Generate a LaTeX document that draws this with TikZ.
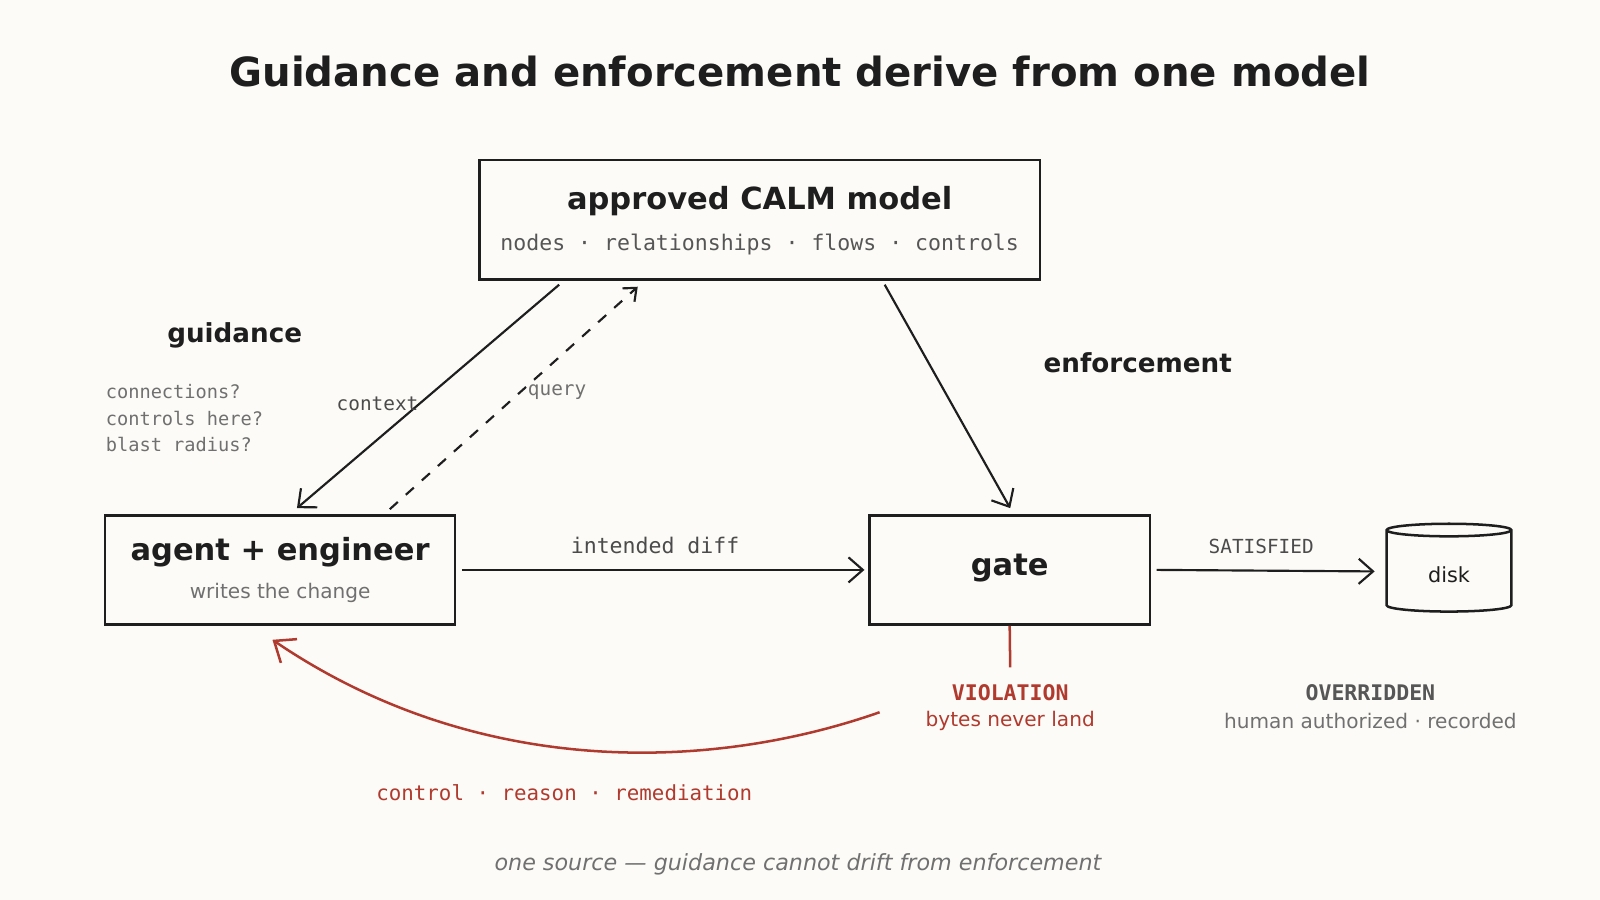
\documentclass[tikz,border=0pt]{standalone}
\usepackage{fontspec}
\setmainfont{DejaVu Sans}
\setmonofont{DejaVu Sans Mono}
\usetikzlibrary{shapes.geometric,arrows.meta}
\definecolor{ink}{HTML}{1E1E1E}
\definecolor{paper}{HTML}{FDFBF7}
\definecolor{rust}{HTML}{B03A2E}
\definecolor{slate}{HTML}{707070}
\begin{document}
\begin{tikzpicture}[x=0.01cm,y=-0.01cm,
    box/.style={draw=ink,line width=0.7pt,rectangle,inner sep=0pt},
    head/.style={font=\fontsize{8.5}{10}\selectfont\bfseries,text=ink},
    note/.style={font=\fontsize{5.2}{7.4}\ttfamily,text=slate,align=left},
    flow/.style={draw=ink,line width=0.6pt,-{Straight Barb[length=4pt,width=7pt]}},
    lab/.style={font=\fontsize{6}{7}\ttfamily,text=ink!80}]
    \fill[paper] (0,0) rectangle (1568,882);
    \useasboundingbox (0,0) rectangle (1568,882);

    \node[font=\fontsize{11.2}{13}\selectfont\bfseries,text=ink] (title) at (784,70) {Guidance and enforcement derive from one model};

    % boxes
    \node[box,minimum width=5.49cm,minimum height=1.17cm] (calm) at (744.5,215.5) {};
    \node[head] (calmt) at (744.5,197) {approved CALM model};
    \node[font=\fontsize{6}{7}\ttfamily,text=ink!75] (calms) at (744.5,240) {nodes · relationships · flows · controls};
    \node[box,minimum width=3.43cm,minimum height=1.07cm] (agent) at (274.5,558.5) {};
    \node[head] (agentt) at (274.5,541) {agent + engineer};
    \node[font=\fontsize{5.6}{7}\selectfont,text=slate] (agents) at (274.5,581) {writes the change};
    \node[box,minimum width=2.75cm,minimum height=1.07cm] (gate) at (989.5,558.5) {};
    \node[head] (gatet) at (989.5,557) {gate};
    \node[cylinder,shape border rotate=90,draw=ink,line width=0.7pt,aspect=0.3,
      minimum width=1.22cm,minimum height=0.86cm,inner sep=0pt,
      font=\fontsize{5.8}{7}\selectfont,text=ink] (disk) at (1420,560) {\raisebox{-6pt}{disk}};

    % side texts
    \node[font=\fontsize{7.3}{9}\selectfont\bfseries,text=ink] (guid) at (230,329) {guidance};
    \node[font=\fontsize{7.3}{9}\selectfont\bfseries,text=ink] (enf) at (1115,355) {enforcement};
    \node[note,anchor=north west,inner sep=0pt] (qs) at (103,376) {connections?\\controls here?\\blast radius?};

    % connectors
    \coordinate (c1) at (548,279); \coordinate (c2) at (291,498);
    \coordinate (q1) at (382,499); \coordinate (q2) at (625,281);
    \coordinate (e1) at (867,279); \coordinate (e2) at (990,498);
    \draw[flow] (c1) -- (c2);
    \draw[flow,dashed,-{Straight Barb[length=3pt,width=5pt]}] (q1) -- (q2);
    \draw[flow] (e1) -- (e2);
    \node[lab,font=\fontsize{5.4}{7}\ttfamily] (ctx) at (370,396) {context};
    \node[lab,font=\fontsize{5.4}{7}\ttfamily,text=slate] (qry) at (546,384) {query};
    \draw[flow] ([xshift=1.5pt]agent.east) -- ([xshift=-1pt]gate.west);
    \node[lab] (diff) at (642,535) {intended diff};
    \draw[flow] ([xshift=1.5pt]gate.east) -- ([xshift=-3pt]disk.west);
    \node[lab,font=\fontsize{5.4}{7}\ttfamily] (sat) at (1236,536) {SATISFIED};

    % outcomes
    \coordinate (v1) at (990,654);
    \draw[rust,line width=0.7pt] (gate.south) -- (v1);
    \node[font=\fontsize{6}{7}\ttfamily\bfseries,text=rust] (viol) at (990,679) {VIOLATION};
    \node[font=\fontsize{5.6}{7}\selectfont,text=rust] (viols) at (990,707) {bytes never land};
    \node[font=\fontsize{6}{7}\ttfamily\bfseries,text=ink!75] (over) at (1343,679) {OVERRIDDEN};
    \node[font=\fontsize{5.6}{7}\selectfont,text=slate] (overs) at (1343,707) {human authorized · recorded};
    \coordinate (r1) at (862,698); \coordinate (r2) at (267,627);
    \draw[rust,line width=0.7pt,-{Straight Barb[length=5pt,width=8pt]}] (r1) .. controls (700,755) and (470,765) .. (r2);
    \node[font=\fontsize{5.8}{7}\ttfamily,text=rust] (rem) at (553,777) {control · reason · remediation};

    \node[font=\fontsize{6.2}{8}\selectfont\itshape,text=slate] (foot) at (782,847) {one source — guidance cannot drift from enforcement};
\end{tikzpicture}
\end{document}
